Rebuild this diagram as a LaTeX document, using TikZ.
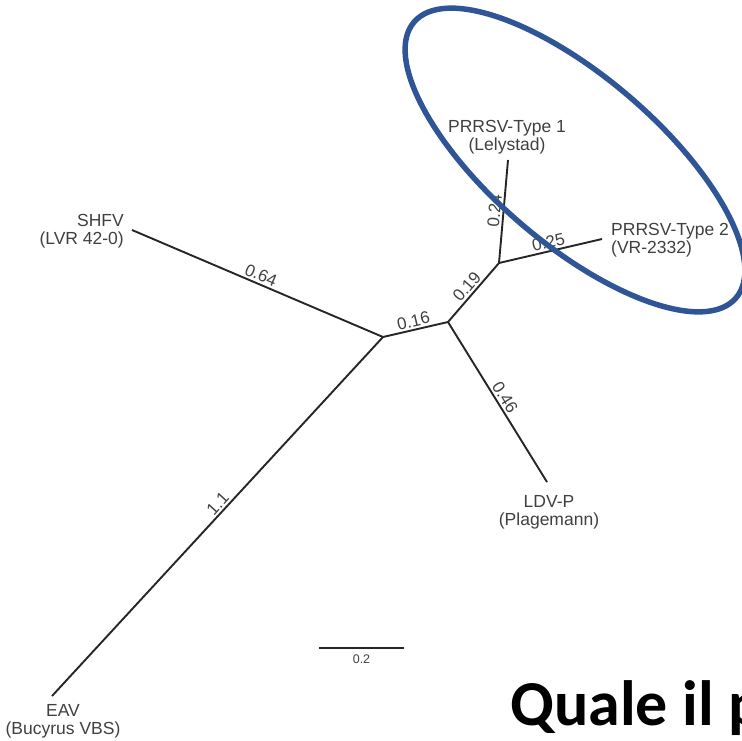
\documentclass[tikz,border=0pt]{standalone}
\usepackage{fontspec}
\setmainfont{Liberation Sans}
\newfontfamily\calibrifont{Carlito}
\definecolor{labelgray}{HTML}{404040}
\definecolor{branchblack}{HTML}{262626}
\definecolor{ovalblue}{HTML}{2F5597}
\tikzset{
  branch/.style={draw=branchblack, line width=1.9pt},
  taxon/.style={text=labelgray, font=\fontsize{17.5}{18}\selectfont, align=center, inner sep=0pt},
  blen/.style={midway, sloped, above, text=labelgray, font=\fontsize{17}{18}\selectfont, inner sep=2pt},
}
\begin{document}
\begin{tikzpicture}[x=1pt,y=-1pt]
  \useasboundingbox (0,0) rectangle (742,740);
  \clip (0,0) rectangle (742,740);

  % Internal nodes of the tree
  \coordinate (root) at (383,337);
  \coordinate (ldvsplit) at (448,322);
  \coordinate (prrsv) at (499,263);

  % Leaves
  \coordinate (shfv) at (132,230);
  \coordinate (eav) at (52,696);
  \coordinate (ldv) at (547,482);
  \coordinate (type1) at (508,160);
  \coordinate (type2) at (602,239);

  % Taxon names
  \node[taxon, anchor=east, align=right] (shfvname) at (124,231) {SHFV\\(LVR 42-0)};
  \node[taxon] (eavname) at (63,721) {EAV\\(Bucyrus VBS)};
  \node[taxon] (ldvname) at (549,512) {LDV-P\\(Plagemann)};
  \node[taxon] (type1name) at (507,137) {PRRSV-Type 1\\(Lelystad)};
  \node[taxon, anchor=west, align=left] (type2name) at (611,240) {PRRSV-Type 2\\(VR-2332)};

  % Branches with lengths
  \draw[branch] (shfv) -- node[blen] {0.64} (root);
  \draw[branch] (eav) -- node[blen, pos=0.52] {1.1} (root);
  \draw[branch] (root) -- node[blen] {0.16} (ldvsplit);
  \draw[branch] (ldvsplit) -- node[blen] {0.46} (ldv);
  \draw[branch] (ldvsplit) -- node[blen] {0.19} (prrsv);
  \draw[branch] (prrsv) -- node[blen] {0.24} (type1);
  \draw[branch] (prrsv) -- node[blen] {0.25} (type2);

  % Scale bar
  \coordinate (barleft) at (319,648);
  \coordinate (barright) at (404,648);
  \draw[draw=branchblack, line width=2.8pt] (barleft) -- (barright)
    node[midway, below=2pt, text=labelgray, font=\fontsize{12.5}{14}\selectfont] (barlabel) {0.2};

  % Oval around the PRRSV types
  \draw[ovalblue, line width=5.5pt, rotate around={-40.6:(575,160)}]
    (575,160) ellipse [x radius=212, y radius=83.5];

  % Question
  \node[anchor=base west, inner sep=0pt, font=\calibrifont\bfseries\fontsize{64}{70}\selectfont]
    (question) at (510,725) {Quale il p};
\end{tikzpicture}
\end{document}
